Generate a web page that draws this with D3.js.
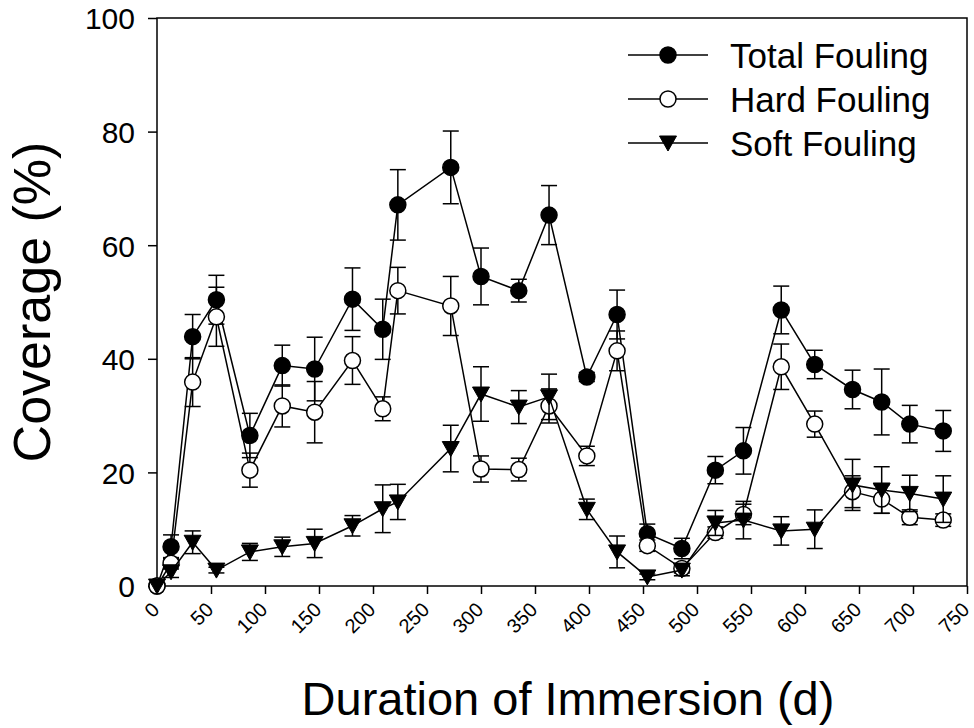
<!DOCTYPE html>
<html>
<head>
<meta charset="utf-8">
<script src="https://cdn.jsdelivr.net/npm/d3@7"></script>
<style>
  html, body { margin: 0; padding: 0; background: #fff; }
  svg { display: block; font-family: "Liberation Sans", Arial, sans-serif; }
</style>
</head>
<body>
<svg id="chart" width="974" height="728"></svg>
<script>
// ---- data ----
const days = [0, 13, 33, 55, 86, 116, 146, 181, 209, 223, 272, 300, 335, 363, 398, 426, 454, 486, 517, 543, 578, 609, 644, 671, 697, 728];
const totalFouling = [0, 6.9, 43.9, 50.4, 26.5, 38.8, 38.2, 50.5, 45.2, 67.1, 73.7, 54.5, 52.0, 65.3, 36.8, 47.8, 9.2, 6.6, 20.4, 23.8, 48.6, 39.0, 34.6, 32.4, 28.5, 27.3];
const totalErr = [0, 2.1, 3.9, 4.3, 3.9, 3.6, 5.6, 5.5, 5.3, 6.2, 6.4, 5.0, 2.0, 5.2, 0.8, 4.3, 1.7, 1.8, 2.4, 4.1, 4.2, 2.5, 3.4, 5.8, 3.3, 3.6];
const hardFouling = [0, 4.0, 35.9, 47.4, 20.4, 31.7, 30.6, 39.7, 31.2, 52.0, 49.3, 20.6, 20.5, 31.7, 22.9, 41.4, 7.1, 3.1, 9.4, 12.6, 38.6, 28.5, 16.6, 15.3, 12.1, 11.6];
const hardErr = [0, 1.0, 4.3, 5.2, 3.0, 3.7, 5.4, 4.2, 2.1, 4.1, 5.2, 2.3, 2.0, 3.0, 1.7, 3.5, 1.0, 0.8, 1.0, 1.8, 4.0, 2.3, 2.8, 2.5, 1.3, 1.1];
const softFouling = [0, 2.5, 7.7, 2.8, 6.0, 6.9, 7.5, 10.6, 13.6, 14.8, 24.2, 33.8, 31.5, 33.3, 13.5, 6.0, 1.6, 2.8, 11.1, 11.6, 9.7, 10.0, 17.8, 16.9, 16.3, 15.3];
const softErr = [0, 1.0, 2.0, 0.5, 1.5, 1.7, 2.5, 1.8, 4.2, 3.1, 4.1, 4.8, 2.9, 4.0, 1.8, 2.8, 0.5, 1.0, 2.2, 3.3, 2.5, 3.4, 4.5, 4.1, 3.2, 4.1];
const seriesNames = ["Total Fouling", "Hard Fouling", "Soft Fouling"];
const xTicks = [0, 50, 100, 150, 200, 250, 300, 350, 400, 450, 500, 550, 600, 650, 700, 750];
const yTicks = [0, 20, 40, 60, 80, 100];
const xTitle = "Duration of Immersion (d)";
const yTitle = "Coverage (%)";

// ---- layout ----
const L = 157, R = 967, T = 18, B = 586;
const svg = d3.select("#chart");
const x = d3.scaleLinear().domain([0, 750]).range([L, R]);
const y = d3.scaleLinear().domain([0, 100]).range([B, T]);

const series = [
  { name: seriesNames[0], vals: totalFouling, err: totalErr, shape: "circle", fill: "#000" },
  { name: seriesNames[1], vals: hardFouling, err: hardErr, shape: "circle", fill: "#fff" },
  { name: seriesNames[2], vals: softFouling, err: softErr, shape: "tri", fill: "#000" }
];

const triPath = "M-8.5,-7L8.5,-7L0,8Z";

function drawMarker(g, shape, fill) {
  if (shape === "circle") {
    g.append("circle").attr("r", 8).attr("fill", fill).attr("stroke", "#000").attr("stroke-width", 1.5);
  } else {
    g.append("path").attr("d", triPath).attr("fill", fill).attr("stroke", "#000").attr("stroke-width", 1);
  }
}

// frame
svg.append("rect").attr("x", L).attr("y", T).attr("width", R - L).attr("height", B - T)
  .attr("fill", "none").attr("stroke", "#000").attr("stroke-width", 1.5);

// axes
const yAxis = d3.axisLeft(y).tickValues(yTicks).tickSize(9).tickFormat(d3.format("d"));
const gy = svg.append("g").attr("transform", `translate(${L},0)`).call(yAxis);
gy.select(".domain").remove();
gy.selectAll(".tick line").attr("stroke-width", 1.5);
gy.selectAll(".tick text").attr("font-size", 30).attr("font-family", "Liberation Sans, Arial, sans-serif")
  .attr("x", -22).attr("dy", "0.36em").attr("fill", "#000");

const xAxis = d3.axisBottom(x).tickValues(xTicks).tickSize(8).tickFormat(d3.format("d"));
const gx = svg.append("g").attr("transform", `translate(0,${B})`).call(xAxis);
gx.select(".domain").remove();
gx.selectAll(".tick line").attr("stroke-width", 1.5);
gx.selectAll(".tick text").attr("font-size", 20).attr("font-family", "Liberation Sans, Arial, sans-serif")
  .attr("fill", "#000").attr("text-anchor", "end").attr("dy", null).attr("y", null)
  .attr("transform", "translate(3,25) rotate(-45)");

// titles
svg.append("text").attr("x", (L + R) / 2 + 6).attr("y", 715).attr("text-anchor", "middle")
  .attr("font-size", 47).text(xTitle);
svg.append("text").attr("transform", `translate(50,${(T + B) / 2}) rotate(-90)`).attr("text-anchor", "middle")
  .attr("font-size", 52).text(yTitle);

// series
const line = d3.line().x(d => x(d.d)).y(d => y(d.v));
series.forEach(s => {
  const pts = days.map((d, i) => ({ d, v: s.vals[i], e: s.err[i] }));
  const g = svg.append("g");
  g.append("path").datum(pts).attr("d", line).attr("fill", "none").attr("stroke", "#000").attr("stroke-width", 1.5);
  const eb = g.selectAll(".eb").data(pts.filter(p => p.e > 0)).enter().append("g");
  eb.append("line").attr("x1", p => x(p.d)).attr("x2", p => x(p.d))
    .attr("y1", p => y(p.v - p.e)).attr("y2", p => y(p.v + p.e)).attr("stroke", "#000").attr("stroke-width", 1.5);
  eb.append("line").attr("x1", p => x(p.d) - 8).attr("x2", p => x(p.d) + 8)
    .attr("y1", p => y(p.v + p.e)).attr("y2", p => y(p.v + p.e)).attr("stroke", "#000").attr("stroke-width", 1.5);
  eb.append("line").attr("x1", p => x(p.d) - 8).attr("x2", p => x(p.d) + 8)
    .attr("y1", p => y(p.v - p.e)).attr("y2", p => y(p.v - p.e)).attr("stroke", "#000").attr("stroke-width", 1.5);
  pts.forEach(p => {
    const m = g.append("g").attr("transform", `translate(${x(p.d)},${y(p.v)})`);
    drawMarker(m, s.shape, s.fill);
  });
});

// legend
series.forEach((s, i) => {
  const cy = 55 + i * 44;
  const g = svg.append("g");
  g.append("line").attr("x1", 628).attr("x2", 708).attr("y1", cy).attr("y2", cy).attr("stroke", "#000").attr("stroke-width", 1.5);
  const m = g.append("g").attr("transform", `translate(668,${cy})`);
  drawMarker(m, s.shape, s.fill);
  g.append("text").attr("x", 730).attr("y", cy + 12.5).attr("font-size", 35).text(s.name);
});
</script>
</body>
</html>
